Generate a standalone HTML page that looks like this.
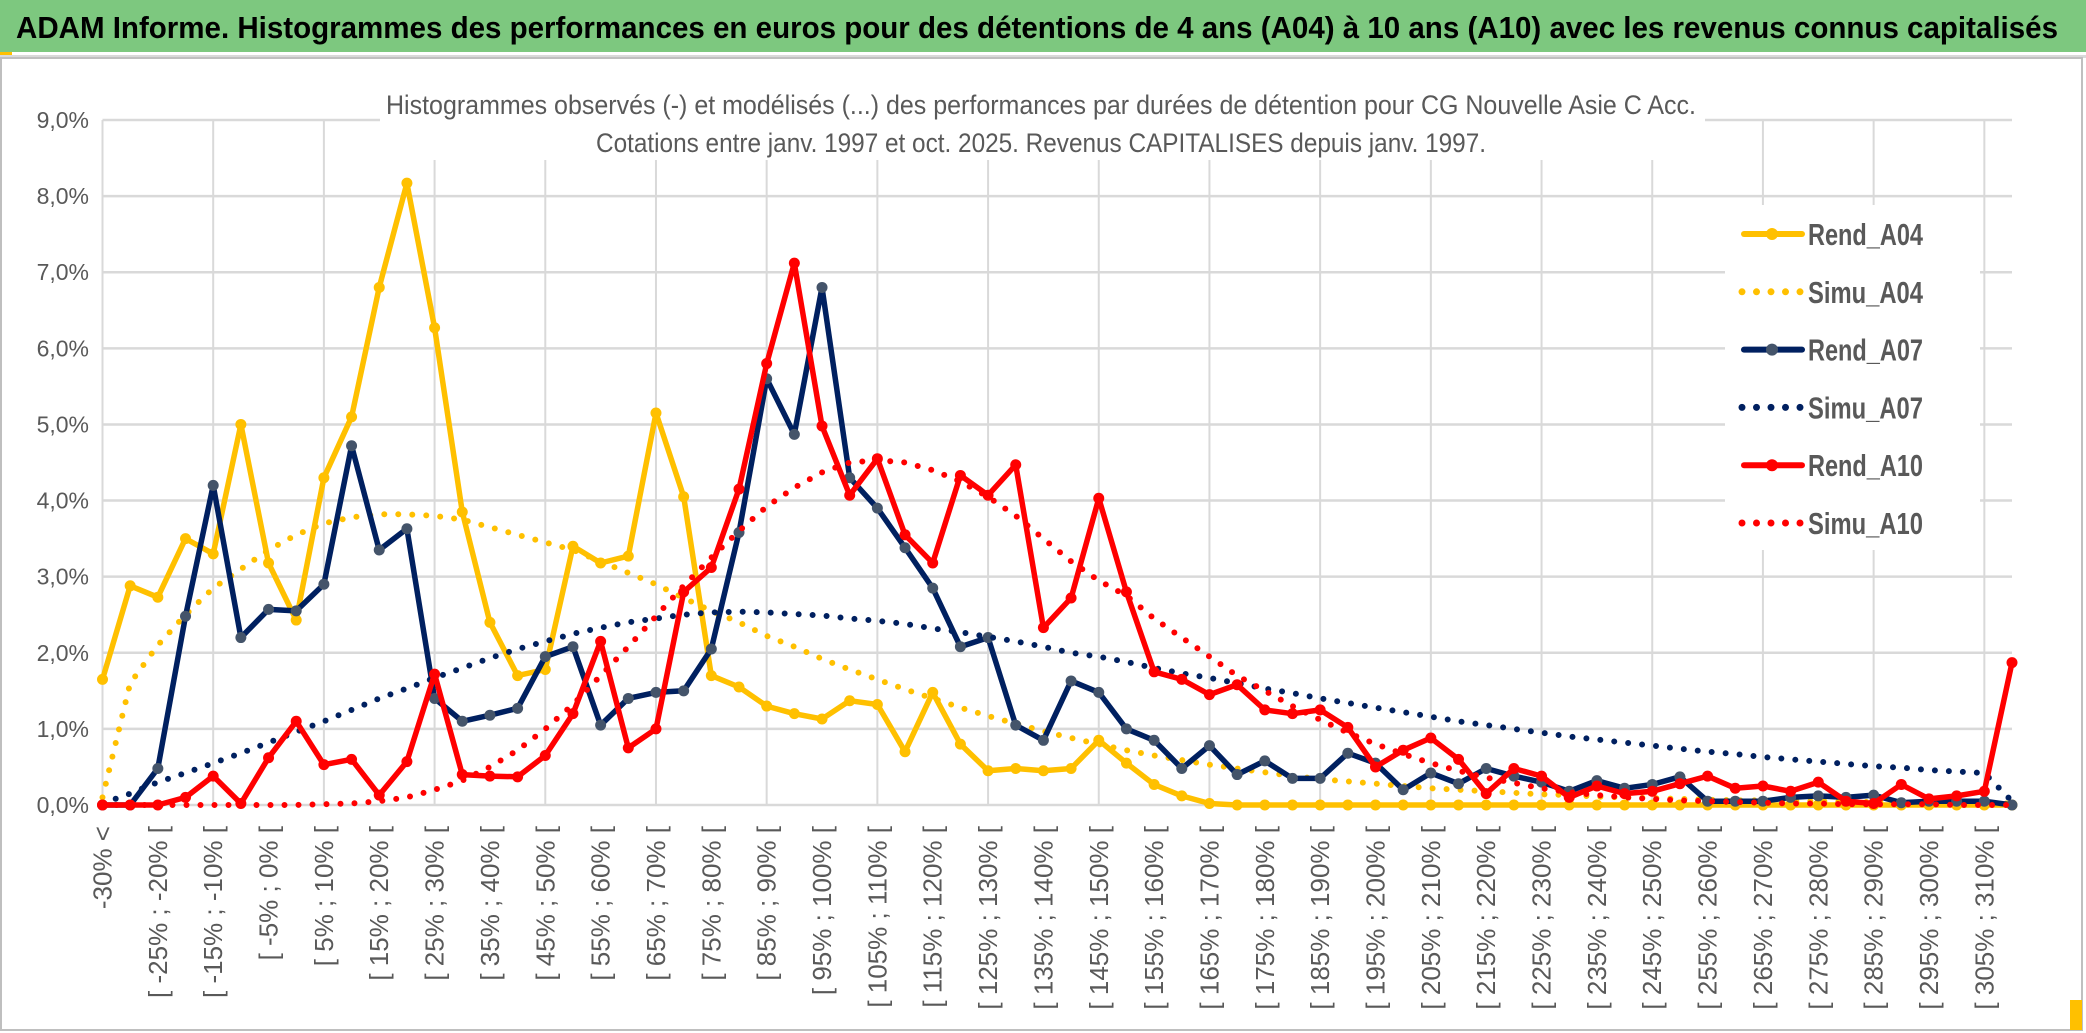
<!DOCTYPE html>
<html><head><meta charset="utf-8"><style>
html,body{margin:0;padding:0;background:#fff;}
svg{display:block;}
text{font-family:"Liberation Sans Narrow","Liberation Sans",sans-serif;}
</style></head><body>
<svg id="chart" width="2086" height="1033" viewBox="0 0 2086 1033" xmlns="http://www.w3.org/2000/svg">
<rect x="0" y="0" width="2086" height="1033" fill="#fff"/>
<rect x="0" y="0" width="2086" height="52" fill="#7DC87F"/>
<rect x="0" y="52" width="12" height="4" fill="#FFC000"/>
<rect x="0" y="55" width="2086" height="3" fill="#d9d9d9"/>
<text x="16" y="38" font-size="31" font-weight="bold" fill="#000" textLength="2042" lengthAdjust="spacingAndGlyphs">ADAM Informe. Histogrammes des performances en euros pour des détentions de 4 ans (A04) à 10 ans (A10) avec les revenus connus capitalisés</text>
<rect x="1" y="58" width="2081" height="972" fill="none" stroke="#bfbfbf" stroke-width="2"/>
<rect x="2070" y="1000" width="12" height="30" fill="#FFC000"/>
<g id="grid"></g>
<rect x="380" y="80" width="1325" height="80" fill="#fff"/>
<text x="1041" y="114" font-size="27" fill="#595959" text-anchor="middle" textLength="1310" lengthAdjust="spacingAndGlyphs">Histogrammes observés (-) et modélisés (...) des performances par durées de détention pour CG Nouvelle Asie C Acc.</text>
<text x="1041" y="152" font-size="27" fill="#595959" text-anchor="middle" textLength="890" lengthAdjust="spacingAndGlyphs">Cotations entre janv. 1997 et oct. 2025. Revenus CAPITALISES depuis janv. 1997.</text>
<g id="yaxis"></g>
<g id="xaxis"></g>
<g id="series"></g>
<g id="legend"></g>
</svg>
<script>
const categoryCount = 70;
const yTicks = [0,1,2,3,4,5,6,7,8,9];
const rendA04 = [1.65,2.88,2.73,3.5,3.3,5.0,3.18,2.43,4.3,5.1,6.8,8.17,6.27,3.85,2.4,1.7,1.78,3.4,3.18,3.27,5.15,4.05,1.7,1.55,1.3,1.2,1.13,1.37,1.32,0.7,1.48,0.8,0.45,0.48,0.45,0.48,0.85,0.55,0.27,0.12,0.02,0,0,0,0,0,0,0,0,0,0,0,0,0,0,0,0,0,0,0,0,0,0,0,0,0,0,0,0,0];
const simuA04 = [0.1,1.6,2.1,2.5,2.85,3.1,3.35,3.55,3.7,3.78,3.82,3.82,3.8,3.75,3.65,3.55,3.45,3.35,3.2,3.05,2.9,2.72,2.55,2.4,2.22,2.08,1.92,1.78,1.65,1.52,1.4,1.28,1.17,1.07,0.97,0.88,0.8,0.72,0.65,0.59,0.53,0.48,0.43,0.38,0.34,0.31,0.28,0.25,0.22,0.2,0.18,0.16,0.14,0.13,0.11,0.1,0.09,0.08,0.07,0.06,0.06,0.05,0.05,0.04,0.04,0.03,0.03,0.03,0.02,0.02];
const rendA07 = [0,0,0.48,2.48,4.2,2.2,2.57,2.55,2.9,4.72,3.35,3.63,1.4,1.1,1.18,1.27,1.95,2.08,1.05,1.4,1.48,1.5,2.05,3.58,5.6,4.87,6.8,4.3,3.9,3.38,2.85,2.08,2.2,1.05,0.85,1.63,1.48,1.0,0.85,0.48,0.78,0.4,0.58,0.35,0.35,0.68,0.55,0.2,0.42,0.28,0.48,0.38,0.3,0.18,0.32,0.22,0.27,0.37,0.05,0.05,0.05,0.1,0.12,0.1,0.13,0.03,0.05,0.05,0.05,0.0];
const simuA07 = [0.02,0.15,0.3,0.42,0.55,0.68,0.82,0.96,1.1,1.25,1.4,1.53,1.67,1.8,1.93,2.05,2.15,2.25,2.33,2.4,2.45,2.5,2.53,2.54,2.53,2.51,2.49,2.45,2.42,2.38,2.32,2.27,2.21,2.15,2.08,2.0,1.95,1.88,1.8,1.73,1.67,1.6,1.53,1.47,1.4,1.34,1.28,1.22,1.16,1.1,1.05,1.0,0.95,0.9,0.86,0.82,0.78,0.74,0.7,0.67,0.63,0.6,0.57,0.54,0.51,0.49,0.46,0.44,0.42,0.05];
const rendA10 = [0,0,0,0.1,0.38,0.02,0.62,1.1,0.53,0.6,0.13,0.57,1.72,0.4,0.38,0.37,0.65,1.2,2.15,0.75,1.0,2.8,3.12,4.15,5.8,7.12,4.98,4.07,4.55,3.55,3.18,4.33,4.07,4.47,2.33,2.72,4.03,2.8,1.75,1.65,1.45,1.58,1.25,1.2,1.25,1.02,0.5,0.72,0.88,0.6,0.15,0.48,0.38,0.1,0.25,0.15,0.18,0.28,0.38,0.22,0.25,0.18,0.3,0.05,0.02,0.27,0.08,0.12,0.18,1.87];
const simuA10 = [0,0,0,0,0,0,0,0,0.01,0.02,0.05,0.1,0.2,0.32,0.5,0.72,1.0,1.32,1.7,2.08,2.48,2.88,3.25,3.6,3.92,4.17,4.37,4.5,4.53,4.5,4.4,4.25,4.05,3.8,3.5,3.2,2.95,2.75,2.45,2.2,1.95,1.7,1.5,1.3,1.12,0.95,0.8,0.67,0.55,0.45,0.36,0.29,0.22,0.17,0.13,0.1,0.08,0.06,0.05,0.04,0.03,0.02,0.02,0.01,0.01,0.01,0.01,0,0,0];

const NS = "http://www.w3.org/2000/svg";
const X0 = 102.5, X1 = 2012, Y0 = 805, Y9 = 120;
function xPos(i){ return X0 + i*(X1-X0)/(categoryCount-1); }
function yPos(v){ return Y0 - v*(Y0-Y9)/9; }
function mk(tag, attrs, parent){ const e=document.createElementNS(NS,tag); for(const k in attrs) e.setAttribute(k,attrs[k]); parent.appendChild(e); return e; }
function catLabel(i){
  if(i===0) return "-30% <";
  const a=-30+5*(i-1);
  if(i===categoryCount-1) return a+"% <";
  return "[ "+a+"% ; "+(a+5)+"% [";
}

const grid=document.getElementById('grid');
yTicks.forEach(function(t){
  const l=mk('line',{x1:X0,x2:X1,y1:yPos(t),y2:yPos(t),stroke:'#d9d9d9','stroke-width':2.5},grid);
  
  
});
for(let i=0;i<categoryCount;i+=4){
  const l=mk('line',{x1:xPos(i),x2:xPos(i),y1:Y9,y2:Y0,stroke:'#d9d9d9','stroke-width':2},grid);
  
  
}
const yax=document.getElementById('yaxis');
yTicks.forEach(function(t){
  const tx=mk('text',{x:89,y:yPos(t)+8,'font-size':23,fill:'#595959','text-anchor':'end'},yax);
  tx.textContent=t.toFixed(1).replace('.',',')+'%';
  
  
});
const xax=document.getElementById('xaxis');
for(let i=0;i<categoryCount;i+=2){
  const x=xPos(i)+9, y=826;
  const tx=mk('text',{x:x,y:y,'font-size':26,fill:'#595959','text-anchor':'end',transform:'rotate(-90 '+x+' '+y+')',style:'font-family:"Liberation Sans",sans-serif'},xax);
  tx.textContent=catLabel(i);
  
  
}

const series=document.getElementById('series');
function drawSolid(vals,color,marker,name){
  const g=mk('g',{},series);
  
  
  const pts=vals.map(function(v,i){return xPos(i).toFixed(1)+','+yPos(v).toFixed(1);}).join(' ');
  mk('polyline',{points:pts,fill:'none',stroke:color,'stroke-width':5.5,'stroke-linejoin':'round'},g);
  vals.forEach(function(v,i){
    const c=mk('circle',{cx:xPos(i),cy:yPos(v),r:5.5,fill:marker},g);
    
    
  });
}
function drawDotted(vals,color,name){
  const pts=vals.map(function(v,i){return xPos(i).toFixed(1)+','+yPos(v).toFixed(1);}).join(' ');
  const p=mk('polyline',{points:pts,fill:'none',stroke:color,'stroke-width':6,'stroke-linecap':'round','stroke-dasharray':'0 14'},series);
  
  
}
drawSolid(rendA04,'#FFC000','#FFC000','rend-a04-line');
drawDotted(simuA04,'#FFC000','simu-a04-line');
drawSolid(rendA07,'#002060','#44546A','rend-a07-line');
drawDotted(simuA07,'#002060','simu-a07-line');
drawSolid(rendA10,'#FF0000','#FF0000','rend-a10-line');
drawDotted(simuA10,'#FF0000','simu-a10-line');

const legendNames=['Rend_A04','Simu_A04','Rend_A07','Simu_A07','Rend_A10','Simu_A10'];
const legendColors=['#FFC000','#FFC000','#002060','#002060','#FF0000','#FF0000'];
const legendMarkers=['#FFC000','','#44546A','','#FF0000',''];
const legend=document.getElementById('legend');
mk('rect',{x:1725,y:205,width:255,height:345,fill:'#fff'},legend);
legendNames.forEach(function(n,k){
  const y=234+k*57.8;
  const g=mk('g',{},legend);
  
  
  if(legendMarkers[k]){
    mk('line',{x1:1744,x2:1802,y1:y,y2:y,stroke:legendColors[k],'stroke-width':6,'stroke-linecap':'round'},g);
    mk('circle',{cx:1772,cy:y,r:6,fill:legendMarkers[k]},g);
  } else {
    mk('line',{x1:1742,x2:1802,y1:y,y2:y,stroke:legendColors[k],'stroke-width':7,'stroke-linecap':'round','stroke-dasharray':'0 14.5'},g);
  }
  const t=mk('text',{x:1808,y:y+11,'font-size':31,'font-weight':'bold',fill:'#595959',textLength:115,lengthAdjust:'spacingAndGlyphs'},g);
  t.textContent=n;
});
</script>
</body></html>
